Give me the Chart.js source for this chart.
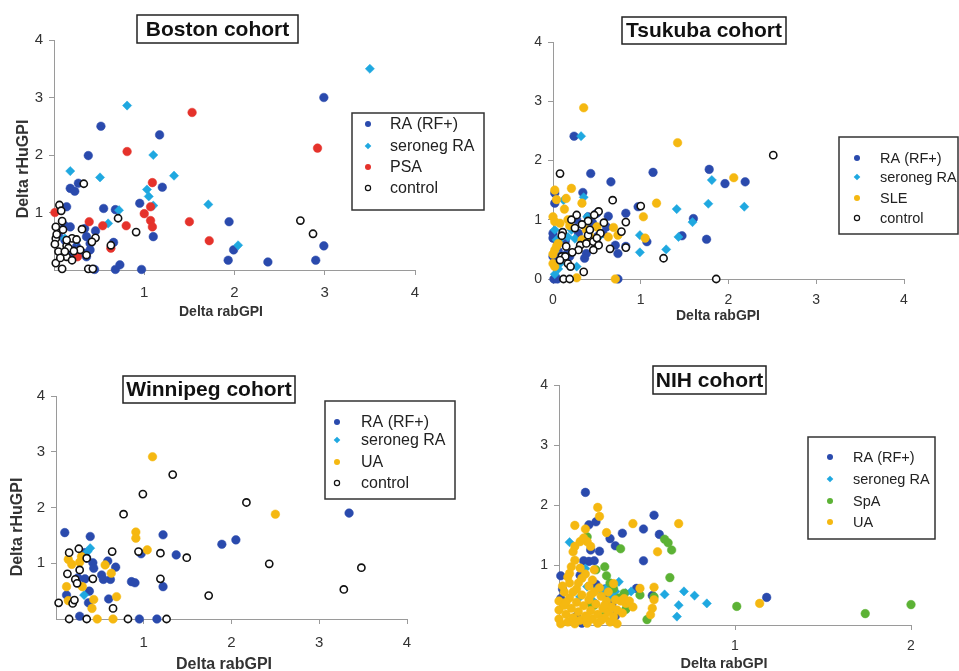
<!DOCTYPE html>
<html>
<head>
<meta charset="utf-8">
<script src="https://cdn.jsdelivr.net/npm/chart.js@4.4.0/dist/chart.umd.min.js"></script>
<style>
body { margin: 0; background: #fff; }
#wrap { position: relative; width: 959px; height: 671px; }
#wrap canvas { position: absolute; left: 0; top: 0; }
</style>
</head>
<body>
<div id="wrap">
<canvas id="boston" width="959" height="671"></canvas>
<canvas id="tsukuba" width="959" height="671"></canvas>
<canvas id="winnipeg" width="959" height="671"></canvas>
<canvas id="nih" width="959" height="671"></canvas>
</div>
<script>
// ---- Boston cohort ----
const bostonRaX = [0.52,1.17,0.38,2.99,1.20,0.18,0.23,0.27,0.14,0.55,0.68,0.95,1.10,1.94,1.99,1.93,2.37,2.90,2.99,0.97,0.68,0.73,0.45,0.12,0.18,0.34,0.36,0.40,0.46,0.66,0.40,0.36,0.12,0.25,0.33,0.05,0.20];
const bostonRaY = [2.50,2.35,1.99,3.00,1.44,1.42,1.37,1.51,1.10,1.07,1.05,1.16,0.58,0.84,0.35,0.17,0.14,0.17,0.42,0.01,0.01,0.09,0.01,0.77,0.75,0.72,0.58,0.46,0.68,0.48,0.35,0.23,0.52,0.41,0.29,0.60,0.30];
const bostonSeroX = [3.50,0.81,1.10,0.18,0.51,1.33,1.03,1.05,1.10,1.71,2.04,0.72,0.60,0.12,0.25];
const bostonSeroY = [3.50,2.86,2.00,1.72,1.61,1.64,1.40,1.28,1.12,1.14,0.43,1.04,0.81,0.55,0.52];
const bostonPsaX = [1.53,0.81,1.09,2.92,1.07,1.00,1.07,1.09,1.50,1.72,0.80,0.54,0.39,0.63,0.01,0.26];
const bostonPsaY = [2.74,2.06,1.52,2.12,1.10,0.98,0.86,0.75,0.84,0.51,0.77,0.77,0.84,0.38,1.00,0.23];
const bostonCtrlX = [0.33,0.06,0.08,0.09,0.10,0.02,0.31,0.71,0.91,0.63,0.46,0.42,2.73,2.87,0.02,0.01,0.05,0.14,0.20,0.02,0.09,0.20,0.25,0.14,0.29,0.36,0.38,0.43,0.16,0.12,0.22,0.07,0.03,0.14];
const bostonCtrlY = [1.50,1.13,1.03,0.85,0.70,0.75,0.71,0.90,0.66,0.43,0.56,0.49,0.86,0.63,0.55,0.45,0.32,0.23,0.17,0.12,0.02,0.55,0.53,0.42,0.35,0.26,0.02,0.02,0.38,0.32,0.33,0.21,0.62,0.52];

// ---- Tsukuba cohort ----
const tsukubaRaX = [0.24,0.43,0.66,1.14,1.78,1.96,2.19,1.60,1.47,1.75,1.07,0.83,0.74,0.74,0.97,0.34,0.38,0.02,0.02,0.00,0.01,0.05,0.63,0.61,0.50,0.10,0.16,0.71,0.40,0.36,0.29,0.51,0.57,0.19,0.06,0.14,0.00,0.00,0.36,0.83,0.27,0.45];
const tsukubaRaY = [2.41,1.78,1.64,1.80,1.85,1.61,1.64,1.02,0.73,0.67,0.63,1.11,0.43,0.00,1.22,1.46,0.43,1.45,1.28,0.69,0.00,0.00,1.06,0.88,1.11,0.66,0.43,0.57,1.05,0.91,0.77,0.72,0.77,0.38,0.47,0.64,0.38,0.77,0.35,0.55,1.00,0.95];
const tsukubaSeroX = [0.32,1.81,1.77,2.18,1.41,1.59,1.43,0.99,0.99,1.29,0.35,0.17,0.21,0.04,0.02,0.06,0.08,0.27,0.52,0.12,0.39,0.02,0.02,0.25,0.10];
const tsukubaSeroY = [2.41,1.67,1.27,1.22,1.18,0.96,0.71,0.74,0.45,0.50,1.38,0.71,0.83,0.66,0.83,0.17,0.26,0.21,0.71,1.33,1.05,0.47,0.08,0.68,0.70];
const tsukubaSleX = [0.35,1.42,2.06,1.18,1.03,1.05,0.71,0.74,0.69,0.63,0.33,0.21,0.15,0.02,0.04,0.13,0.02,0.08,0.02,0.00,0.02,0.06,0.17,0.27,0.38,0.50,0.33,0.19,0.42,0.00,0.04,0.00];
const tsukubaSleY = [2.89,2.30,1.71,1.28,1.05,0.69,0.00,0.74,0.87,0.71,1.28,1.53,1.36,1.50,1.34,1.18,0.97,0.94,0.49,0.26,0.21,0.60,1.00,0.02,0.83,0.88,0.66,0.90,0.72,1.05,0.55,0.42];
const tsukubaCtrlX = [0.08,2.51,0.68,1.00,0.83,0.78,0.83,1.26,1.86,0.65,0.52,0.47,0.27,0.21,0.40,0.11,0.10,0.15,0.25,0.31,0.29,0.38,0.46,0.40,0.42,0.54,0.50,0.52,0.46,0.10,0.14,0.17,0.20,0.35,0.12,0.19,0.08,0.33,0.22,0.58];
const tsukubaCtrlY = [1.78,2.09,1.33,1.23,0.96,0.80,0.53,0.35,0.00,0.51,1.14,1.08,1.08,1.00,0.98,0.79,0.73,0.55,0.86,0.57,0.49,0.60,0.63,0.74,0.83,0.77,0.69,0.57,0.49,0.38,0.38,0.26,0.21,0.12,0.00,0.00,0.32,0.92,0.45,0.95];

// ---- Winnipeg cohort ----
const winnipegRaX = [0.10,0.39,1.22,1.89,2.05,3.34,1.37,0.97,0.86,0.90,1.22,0.68,0.59,0.62,0.52,0.54,0.42,0.43,0.33,0.35,0.33,0.38,0.37,0.12,0.27,0.95,1.15,0.60,0.25];
const winnipegRaY = [1.55,1.48,1.51,1.34,1.42,1.90,1.15,1.17,0.67,0.65,0.58,0.93,1.04,0.71,0.79,0.71,1.01,0.91,1.19,1.09,0.72,0.50,0.29,0.43,0.05,0.00,0.00,0.36,0.74];
const winnipegSeroX = [0.39,0.32,0.36];
const winnipegSeroY = [1.27,0.43,1.21];
const winnipegUaX = [1.10,2.50,0.91,0.91,1.04,0.56,0.63,0.69,0.27,0.14,0.18,0.12,0.30,0.43,0.41,0.14,0.47,0.65,0.29];
const winnipegUaY = [2.91,1.88,1.56,1.45,1.24,0.97,0.82,0.40,1.02,1.07,0.98,0.58,0.58,0.35,0.19,0.33,0.00,0.00,1.12];
const winnipegCtrlX = [1.33,0.99,2.17,0.77,0.94,1.19,1.49,0.64,2.43,3.48,3.28,1.74,1.19,0.65,0.42,0.35,0.26,0.15,0.13,0.27,0.22,0.24,0.19,0.21,0.03,0.15,0.35,0.82,1.26];
const winnipegCtrlY = [2.59,2.24,2.09,1.88,1.21,1.18,1.10,1.21,0.99,0.92,0.53,0.42,0.72,0.19,0.72,1.09,1.26,1.19,0.81,0.88,0.71,0.64,0.28,0.34,0.29,0.00,0.00,0.00,0.00];

// ---- NIH cohort ----
const nihRaX = [0.15,0.17,0.21,0.54,0.48,0.36,0.29,0.32,0.23,0.57,0.48,0.18,0.14,0.17,0.20,0.01,0.02,0.01,1.18,0.12,0.53,0.44,0.28,0.30,0.33,0.21,0.13,0.20,0.26,0.10,0.32];
const nihRaY = [2.21,1.67,1.72,1.83,1.60,1.53,1.44,1.32,1.23,1.51,1.07,1.25,1.07,1.06,1.07,0.82,0.60,0.44,0.46,0.83,0.49,0.61,0.50,0.34,0.22,0.68,0.03,0.36,0.60,0.15,0.15];
const nihSeroX = [0.06,0.15,0.34,0.41,0.60,0.71,0.77,0.84,0.68,0.67,0.25,0.30,0.32,0.21,0.16,0.12,0.38,0.27,0.19];
const nihSeroY = [1.38,0.94,0.72,0.56,0.51,0.56,0.49,0.36,0.33,0.14,0.53,0.47,0.56,0.58,0.64,0.47,0.53,0.62,0.41];
const nihSpaX = [2.00,1.74,1.01,0.64,0.60,0.62,0.63,0.35,0.26,0.27,0.46,0.50,0.38,0.16,0.21,0.31,0.18,0.20,0.37,0.54,0.25,0.29,0.34];
const nihSpaY = [0.34,0.19,0.31,1.25,1.43,1.37,0.79,1.27,0.97,0.82,0.50,0.09,0.26,1.47,0.92,0.61,0.36,0.33,0.53,0.47,0.14,0.70,0.45];
const nihUaX = [0.22,0.23,0.09,0.15,0.27,0.42,0.68,0.56,1.14,0.54,0.46,0.54,0.53,0.52,0.33,0.09,0.07,0.09,0.06,0.12,0.16,0.18,0.20,0.31,0.37,0.38,0.14,0.08,
  0.00,0.00,0.00,0.01,0.03,0.03,0.04,0.05,0.06,0.06,0.07,0.08,0.09,0.10,0.10,0.11,0.12,0.13,0.13,0.14,0.15,0.16,0.17,0.17,0.18,0.19,0.20,0.21,0.22,0.22,0.24,0.25,0.26,0.27,0.28,0.29,0.30,0.31,0.33,0.35,0.02,0.11,0.15,0.08,0.19,0.23,0.05,0.28,0.12,0.16,0.24,0.04,0.18,0.26,0.32,0.36,0.40,0.42];
const nihUaY = [1.96,1.81,1.66,1.60,1.54,1.69,1.69,1.22,0.36,0.63,0.61,0.42,0.28,0.17,0.02,1.31,0.97,1.08,0.86,1.39,1.39,1.31,0.92,0.69,0.44,0.36,1.45,1.22,
  0.40,0.25,0.10,0.02,0.55,0.33,0.18,0.05,0.70,0.45,0.28,0.12,0.02,0.60,0.38,0.22,0.08,0.78,0.50,0.32,0.15,0.03,0.65,0.42,0.24,0.10,0.55,0.35,0.18,0.03,0.48,0.28,0.12,0.40,0.22,0.05,0.30,0.14,0.25,0.40,0.65,0.70,0.85,0.55,0.75,0.62,0.80,0.55,0.95,0.12,0.08,0.38,0.50,0.33,0.42,0.20,0.40,0.30];

const FONT = '"Liberation Sans", Arial, Helvetica, sans-serif';
Chart.defaults.font.family = FONT;

const styles = {
  ra:   { color: '#2a4aad', shape: 'circle' },
  sero: { color: '#1fa8e0', shape: 'rectRot' },
  psa:  { color: '#e5322b', shape: 'circle' },
  sle:  { color: '#f5b811', shape: 'circle' },
  spa:  { color: '#5cb235', shape: 'circle' },
  ctrl: { color: '#111111', shape: 'circle', open: true }
};

function pts(xs, ys) {
  return xs.map((x, i) => ({ x: x, y: ys[i] }));
}

function series(label, xs, ys, key, order) {
  const s = styles[key];
  return {
    label: label,
    data: pts(xs, ys),
    pointStyle: s.shape,
    pointRadius: s.open ? 3.6 : (s.shape === 'rectRot' ? 4.6 : 4.3),
    pointBackgroundColor: s.open ? '#ffffff' : s.color,
    pointBorderColor: s.color,
    pointBorderWidth: s.open ? 1.6 : 0.5,
    showLine: false,
    clip: false,
    order: order,
    _key: key
  };
}

// title box, axis titles and boxed legend
const panelPlugin = {
  id: 'panel',
  afterDraw(chart, args, o) {
    const ctx = chart.ctx;
    ctx.save();
    const t = o.title;
    ctx.strokeStyle = '#222';
    ctx.lineWidth = 1.5;
    ctx.strokeRect(t.box[0], t.box[1], t.box[2] - t.box[0], t.box[3] - t.box[1]);
    ctx.fillStyle = '#111';
    ctx.font = 'bold 21px ' + FONT;
    ctx.textAlign = 'center';
    ctx.textBaseline = 'middle';
    ctx.fillText(t.text, (t.box[0] + t.box[2]) / 2, (t.box[1] + t.box[3]) / 2 + 1);

    ctx.fillStyle = '#333';
    const xt = o.xTitle;
    ctx.font = 'bold ' + xt.size + 'px ' + FONT;
    ctx.fillText(xt.text, xt.x, xt.y);
    if (o.yTitle) {
      const yt = o.yTitle;
      ctx.save();
      ctx.translate(yt.x, yt.y);
      ctx.rotate(-Math.PI / 2);
      ctx.font = 'bold ' + yt.size + 'px ' + FONT;
      ctx.fillText(yt.text, 0, 0);
      ctx.restore();
    }

    const l = o.legend;
    ctx.strokeStyle = '#333';
    ctx.lineWidth = 1.5;
    ctx.strokeRect(l.box[0], l.box[1], l.box[2] - l.box[0], l.box[3] - l.box[1]);
    ctx.font = l.size + 'px ' + FONT;
    ctx.textAlign = 'left';
    chart.data.datasets.forEach((ds, i) => {
      const s = styles[ds._key];
      const y = l.ys[i];
      ctx.beginPath();
      if (s.shape === 'rectRot') {
        const r = 3.3;
        ctx.moveTo(l.mx - r, y); ctx.lineTo(l.mx, y - r);
        ctx.lineTo(l.mx + r, y); ctx.lineTo(l.mx, y + r);
        ctx.closePath();
      } else {
        ctx.arc(l.mx, y, s.open ? 2.6 : 3, 0, Math.PI * 2);
      }
      if (s.open) {
        ctx.fillStyle = '#fff'; ctx.fill();
        ctx.strokeStyle = '#111'; ctx.lineWidth = 1.2; ctx.stroke();
      } else {
        ctx.fillStyle = s.color; ctx.fill();
      }
      ctx.fillStyle = '#222';
      ctx.fillText(ds.label, l.tx, y + 1);
    });
    ctx.restore();
  }
};

function axes(xMax, xTicks, yTicks, tickSize, xPad) {
  const common = {
    type: 'linear',
    min: 0,
    border: { color: '#9a9a9a', width: 1 },
    grid: { drawOnChartArea: false, tickLength: 5, color: '#9a9a9a' },
    ticks: { font: { size: tickSize }, color: '#333' }
  };
  return {
    x: Object.assign({}, common, {
      max: xMax,
      ticks: Object.assign({}, common.ticks, { padding: xPad }),
      afterBuildTicks: s => { s.ticks = xTicks.map(v => ({ value: v })); },
      afterFit: s => { s.height = 40; }
    }),
    y: Object.assign({}, common, {
      max: 4,
      ticks: Object.assign({}, common.ticks, { padding: 6 }),
      afterBuildTicks: s => { s.ticks = yTicks.map(v => ({ value: v })); },
      afterFit: s => { s.width = 40; }
    })
  };
}

function makeChart(id, datasets, area, scales, panel) {
  return new Chart(document.getElementById(id), {
    type: 'scatter',
    data: { datasets: datasets },
    options: {
      responsive: false,
      animation: false,
      events: [],
      layout: {
        padding: { left: area.left - 40, right: 959 - area.right, top: area.top, bottom: 671 - area.bottom - 40 }
      },
      scales: scales,
      plugins: { legend: { display: false }, tooltip: { enabled: false }, panel: panel }
    },
    plugins: [panelPlugin]
  });
}

makeChart('boston', [
  series('RA (RF+)', bostonRaX, bostonRaY, 'ra', 4),
  series('seroneg RA', bostonSeroX, bostonSeroY, 'sero', 3),
  series('PSA', bostonPsaX, bostonPsaY, 'psa', 2),
  series('control', bostonCtrlX, bostonCtrlY, 'ctrl', 1)
], { left: 54, right: 415, top: 40, bottom: 270 },
  axes(4, [1, 2, 3, 4], [1, 2, 3, 4], 15, 9),
  {
    title: { text: 'Boston cohort', box: [137, 15, 298, 43] },
    xTitle: { text: 'Delta rabGPI', x: 221, y: 312, size: 14 },
    yTitle: { text: 'Delta rHuGPI', x: 24, y: 169, size: 16 },
    legend: { box: [352, 113, 484, 210], mx: 368, tx: 390, ys: [124, 146, 167, 188], size: 16 }
  });

makeChart('tsukuba', [
  series('RA (RF+)', tsukubaRaX, tsukubaRaY, 'ra', 4),
  series('seroneg RA', tsukubaSeroX, tsukubaSeroY, 'sero', 3),
  series('SLE', tsukubaSleX, tsukubaSleY, 'sle', 2),
  series('control', tsukubaCtrlX, tsukubaCtrlY, 'ctrl', 1)
], { left: 553, right: 904, top: 42, bottom: 279 },
  axes(4, [0, 1, 2, 3, 4], [0, 1, 2, 3, 4], 14, 7.6),
  {
    title: { text: 'Tsukuba cohort', box: [622, 17, 786, 44] },
    xTitle: { text: 'Delta rabGPI', x: 718, y: 316, size: 14 },
    legend: { box: [839, 137, 958, 234], mx: 857, tx: 880, ys: [158, 177, 198, 218], size: 14.5 }
  });

makeChart('winnipeg', [
  series('RA (RF+)', winnipegRaX, winnipegRaY, 'ra', 4),
  series('seroneg RA', winnipegSeroX, winnipegSeroY, 'sero', 3),
  series('UA', winnipegUaX, winnipegUaY, 'sle', 2),
  series('control', winnipegCtrlX, winnipegCtrlY, 'ctrl', 1)
], { left: 56, right: 407, top: 396, bottom: 619 },
  axes(4, [1, 2, 3, 4], [1, 2, 3, 4], 15, 10),
  {
    title: { text: 'Winnipeg cohort', box: [123, 376, 295, 403] },
    xTitle: { text: 'Delta rabGPI', x: 224, y: 665, size: 16 },
    yTitle: { text: 'Delta rHuGPI', x: 18, y: 527, size: 16 },
    legend: { box: [325, 401, 455, 499], mx: 337, tx: 361, ys: [422, 440, 462, 483], size: 16 }
  });

makeChart('nih', [
  series('RA (RF+)', nihRaX, nihRaY, 'ra', 4),
  series('seroneg RA', nihSeroX, nihSeroY, 'sero', 3),
  series('SpA', nihSpaX, nihSpaY, 'spa', 2),
  series('UA', nihUaX, nihUaY, 'sle', 1)
], { left: 559, right: 911, top: 385, bottom: 625 },
  axes(2, [1, 2], [1, 2, 3, 4], 14, 7.6),
  {
    title: { text: 'NIH cohort', box: [653, 366, 766, 394] },
    xTitle: { text: 'Delta rabGPI', x: 724, y: 664, size: 14.5 },
    legend: { box: [808, 437, 935, 539], mx: 830, tx: 853, ys: [457, 479, 501, 522], size: 14.5 }
  });
</script>
</body>
</html>
